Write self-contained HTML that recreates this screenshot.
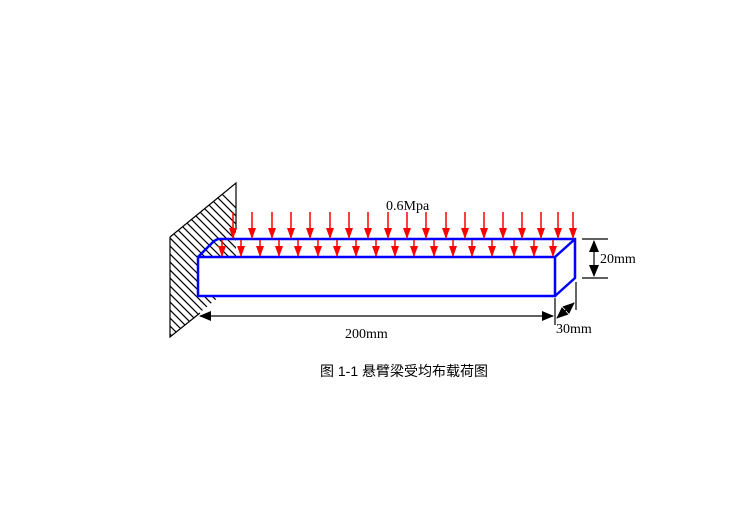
<!DOCTYPE html><html><head><style>body{margin:0;background:#fff}svg{display:block}</style></head><body>
<svg width="756" height="532" xmlns="http://www.w3.org/2000/svg">
<defs>
<clipPath id="w"><polygon points="170,237 236,183 236,283 170,337"/></clipPath>
<marker id="ar" markerWidth="8" markerHeight="11" refX="4" refY="10" orient="0" markerUnits="userSpaceOnUse"><path d="M0,0 L8,0 L4,11z" fill="red"/></marker>
<marker id="ak" markerWidth="12" markerHeight="10" refX="11" refY="5" orient="auto-start-reverse" markerUnits="userSpaceOnUse"><path d="M0,0 L12,5 L0,10z" fill="#000"/></marker>
</defs>
<g clip-path="url(#w)" stroke="#000" stroke-width="1.2" fill="none">
<path d="M100,120 l150,150 M100,128 l150,150 M100,136 l150,150 M100,144 l150,150 M100,152 l150,150 M100,160 l150,150 M100,168 l150,150 M100,176 l150,150 M100,184 l150,150 M100,192 l150,150 M100,200 l150,150 M100,208 l150,150 M100,216 l150,150 M100,224 l150,150 M100,232 l150,150 M100,240 l150,150 M100,248 l150,150 M100,256 l150,150 M100,264 l150,150 M100,272 l150,150 M100,280 l150,150 M100,288 l150,150 M100,296 l150,150 M100,304 l150,150 M100,312 l150,150 M100,320 l150,150 M100,328 l150,150 M100,336 l150,150 M100,112 l150,150 M100,104 l150,150 M100,96 l150,150 M100,88 l150,150 M100,80 l150,150 M100,72 l150,150"/>
</g>
<path d="M170,237 L236,183 L236,230 M170,237 L170,337 L200,313" stroke="#000" stroke-width="1.2" fill="none"/>
<polygon points="198,257 555,257 555,296 198,296" fill="#fff" stroke="#00f" stroke-width="2.5"/>
<path d="M198,257 L214,241 L218,239 L575,239 L575,278 L555,296 M555,257 L575,239" fill="none" stroke="#00f" stroke-width="2.5"/>
<g stroke="red" stroke-width="1.5" marker-end="url(#ar)">
<line x1="233" y1="212" x2="233" y2="238"/><line x1="252" y1="212" x2="252" y2="238"/><line x1="272" y1="212" x2="272" y2="238"/><line x1="291" y1="212" x2="291" y2="238"/><line x1="310" y1="212" x2="310" y2="238"/><line x1="330" y1="212" x2="330" y2="238"/><line x1="349" y1="212" x2="349" y2="238"/><line x1="368" y1="212" x2="368" y2="238"/><line x1="388" y1="212" x2="388" y2="238"/><line x1="407" y1="212" x2="407" y2="238"/><line x1="426" y1="212" x2="426" y2="238"/><line x1="446" y1="212" x2="446" y2="238"/><line x1="465" y1="212" x2="465" y2="238"/><line x1="484" y1="212" x2="484" y2="238"/><line x1="503" y1="212" x2="503" y2="238"/><line x1="522" y1="212" x2="522" y2="238"/><line x1="541" y1="212" x2="541" y2="238"/><line x1="558" y1="212" x2="558" y2="238"/><line x1="573" y1="212" x2="573" y2="238"/>
<line x1="222" y1="240" x2="222" y2="256"/><line x1="241" y1="240" x2="241" y2="256"/><line x1="260" y1="240" x2="260" y2="256"/><line x1="279" y1="240" x2="279" y2="256"/><line x1="298" y1="240" x2="298" y2="256"/><line x1="318" y1="240" x2="318" y2="256"/><line x1="337" y1="240" x2="337" y2="256"/><line x1="356" y1="240" x2="356" y2="256"/><line x1="376" y1="240" x2="376" y2="256"/><line x1="395" y1="240" x2="395" y2="256"/><line x1="414" y1="240" x2="414" y2="256"/><line x1="434" y1="240" x2="434" y2="256"/><line x1="453" y1="240" x2="453" y2="256"/><line x1="472" y1="240" x2="472" y2="256"/><line x1="492" y1="240" x2="492" y2="256"/><line x1="514" y1="240" x2="514" y2="256"/><line x1="534" y1="240" x2="534" y2="256"/><line x1="553" y1="240" x2="553" y2="256"/>
</g>
<g stroke="#000" stroke-width="1.2" fill="none">
<line x1="200" y1="316" x2="553" y2="316" marker-end="url(#ak)" marker-start="url(#ak)"/>
<line x1="555" y1="298" x2="555" y2="325"/><line x1="576" y1="282" x2="576" y2="310"/>
<line x1="582" y1="239" x2="608" y2="239"/><line x1="582" y1="278" x2="608" y2="278"/>
<line x1="594" y1="241" x2="594" y2="276" marker-end="url(#ak)" marker-start="url(#ak)"/>
<line x1="557" y1="318" x2="574" y2="303" marker-end="url(#ak)" marker-start="url(#ak)"/>
</g>
<g font-family="Liberation Serif, serif" font-size="14" fill="#000">
<text x="386" y="210">0.6Mpa</text>
<text x="345" y="338">200mm</text>
<text x="600" y="263">20mm</text>
<text x="556" y="333">30mm</text>
</g>
<text x="404" y="376" text-anchor="middle" font-family="Liberation Sans, Noto Sans CJK SC, sans-serif" font-size="14">图 1-1  悬臂梁受均布载荷图</text>
</svg>
</body></html>
